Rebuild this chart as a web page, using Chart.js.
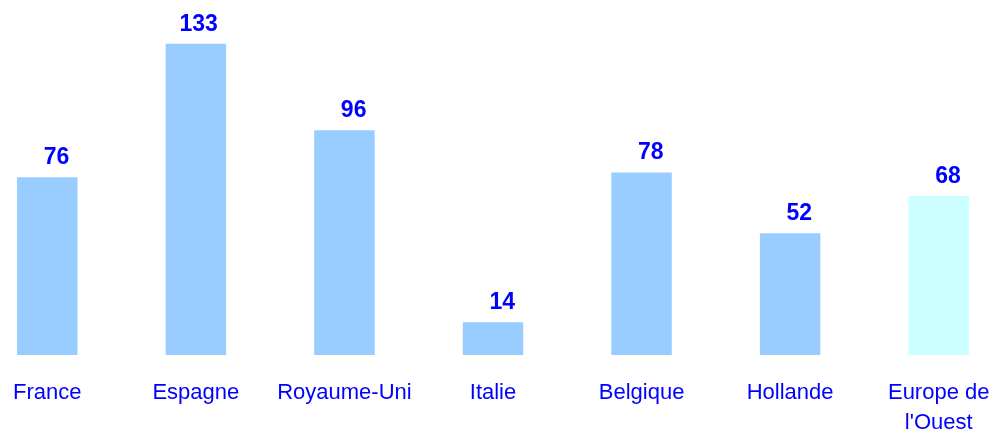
<!DOCTYPE html>
<html>
<head>
<meta charset="utf-8">
<script src="https://cdn.jsdelivr.net/npm/chart.js@4/dist/chart.umd.min.js"></script>
<style>
  html, body { margin: 0; padding: 0; background: #ffffff; overflow: hidden; }
  #wrap { position: absolute; left: -27px; top: 0; width: 1040px; height: 434px; }
</style>
</head>
<body>
<div id="wrap"><canvas id="c" width="1040" height="434"></canvas></div>
<script>
const categories = ["France", "Espagne", "Royaume-Uni", "Italie", "Belgique", "Hollande", ["Europe de", "l'Ouest"]];
const values = [76, 133, 96, 14, 78, 52, 68];
const barColors = ["#99CCFF", "#99CCFF", "#99CCFF", "#99CCFF", "#99CCFF", "#99CCFF", "#CCFFFF"];

const valueLabels = {
  id: 'valueLabels',
  afterDatasetsDraw(chart) {
    const ctx = chart.ctx;
    const meta = chart.getDatasetMeta(0);
    ctx.save();
    ctx.font = 'bold 23px "Liberation Sans", Arial, sans-serif';
    ctx.fillStyle = '#0000FF';
    ctx.textAlign = 'right';
    ctx.textBaseline = 'alphabetic';
    meta.data.forEach((bar, i) => {
      ctx.fillText(String(values[i]), bar.x + 22, bar.y - 13);
    });
    ctx.restore();
  }
};

new Chart(document.getElementById('c'), {
  type: 'bar',
  data: {
    labels: categories,
    datasets: [{
      data: values,
      backgroundColor: barColors,
      borderWidth: 0,
      categoryPercentage: 1.0,
      barPercentage: 0.407
    }]
  },
  options: {
    responsive: false,
    animation: false,
    layout: { padding: { top: 4, left: 0, right: 0, bottom: 0 } },
    plugins: { legend: { display: false }, tooltip: { enabled: false }, title: { display: false } },
    scales: {
      y: { display: false, min: 0, max: 150 },
      x: {
        grid: { display: false, drawTicks: false },
        border: { display: false },
        afterFit(scale) { scale.height = 79; },
        ticks: {
          color: '#0000FF',
          padding: 23,
          maxRotation: 0,
          autoSkip: false,
          font: { family: '"Liberation Sans", Arial, sans-serif', size: 22, lineHeight: 1.36 }
        }
      }
    }
  },
  plugins: [valueLabels]
});
</script>
</body>
</html>
